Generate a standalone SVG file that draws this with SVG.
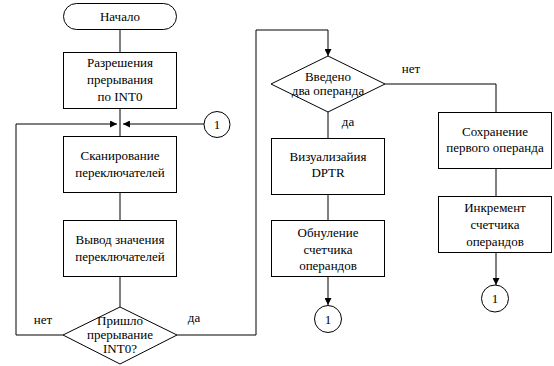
<svg xmlns="http://www.w3.org/2000/svg" width="554" height="366" viewBox="0 0 554 366">
<style>
.s{fill:#fff;stroke:#000;stroke-width:1}
.c{fill:none;stroke:#000;stroke-width:1}
.t{font-family:'Liberation Serif','Times New Roman',serif;font-size:13px;fill:#000;text-anchor:middle}
</style>
<defs>
<marker id="a" viewBox="0 0 10 10" refX="10" refY="5" markerWidth="7" markerHeight="7" orient="auto" markerUnits="userSpaceOnUse">
<path d="M0,0L10,5L0,10z" fill="#000"/>
</marker>
</defs>
<rect width="554" height="366" fill="#fff"/>
<g id="connectors">
<path class="c" d="M120,29V52"/>
<path class="c" d="M120,109V136"/>
<path class="c" d="M16,124H117" marker-end="url(#a)"/>
<path class="c" d="M204,124H123" marker-end="url(#a)"/>
<path class="c" d="M120,192V220"/>
<path class="c" d="M120,277V307"/>
<path class="c" d="M63,335H16V124"/>
<path class="c" d="M177,335H256V30H328V56" marker-end="url(#a)"/>
<path class="c" d="M385,84H496V112"/>
<path class="c" d="M328,112V138"/>
<path class="c" d="M328,194V220"/>
<path class="c" d="M328,277V305" marker-end="url(#a)"/>
<path class="c" d="M496,168V196"/>
<path class="c" d="M496,253V285" marker-end="url(#a)"/>
</g>
<g class="t">
<g id="start"><rect class="s" x="63.5" y="3.5" width="113" height="26" rx="13"/><text x="120" y="21">Начало</text></g>
<g id="enable"><rect class="s" x="63.5" y="52.5" width="113" height="56"/><text x="120" y="67">Разрешения</text><text x="120" y="84">прерывания</text><text x="120" y="101">по INT0</text></g>
<g id="conn1a"><circle class="s" cx="217" cy="124.5" r="13"/><text x="217" y="129">1</text></g>
<g id="scan"><rect class="s" x="63.5" y="136.5" width="113" height="56"/><text x="120" y="160">Сканирование</text><text x="120" y="177">переключателей</text></g>
<g id="output"><rect class="s" x="63.5" y="220.5" width="113" height="56"/><text x="120" y="244">Вывод значения</text><text x="120" y="261">переключателей</text></g>
<g id="int0"><path class="s" d="M120,307L177,335L120,364L63,335Z"/><text x="120" y="325">Пришло</text><text x="120" y="339">прерывание</text><text x="120" y="353">INT0?</text></g>
<text x="43" y="324">нет</text>
<text x="194" y="322">да</text>
<g id="two"><path class="s" d="M328,56L385,84L328,112L271,84Z"/><text x="328" y="81">Введено</text><text x="328" y="95">два операнда</text></g>
<text x="411" y="73">нет</text>
<text x="348" y="126">да</text>
<g id="vis"><rect class="s" x="271.5" y="138.5" width="113" height="56"/><text x="328" y="161">Визуализайия</text><text x="328" y="177">DPTR</text></g>
<g id="reset"><rect class="s" x="271.5" y="220.5" width="113" height="56"/><text x="328" y="237">Обнуление</text><text x="328" y="254">счетчика</text><text x="328" y="270">операндов</text></g>
<g id="conn1b"><circle class="s" cx="328" cy="319" r="13.5"/><text x="328" y="324">1</text></g>
<g id="save"><rect class="s" x="438.5" y="112.5" width="113" height="56"/><text x="495" y="136">Сохранение</text><text x="495" y="152">первого операнда</text></g>
<g id="inc"><rect class="s" x="438.5" y="196.5" width="113" height="56"/><text x="495" y="212">Инкремент</text><text x="495" y="229">счетчика</text><text x="495" y="246">операндов</text></g>
<g id="conn1c"><circle class="s" cx="495" cy="298.5" r="13.5"/><text x="495" y="303">1</text></g>
</g>
</svg>
